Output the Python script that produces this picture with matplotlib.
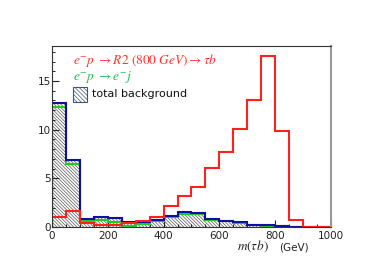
import numpy as np
import matplotlib
matplotlib.use("Agg")
import matplotlib.pyplot as plt
from matplotlib.patches import Rectangle

plt.rcParams['mathtext.fontset'] = 'stix'
plt.rcParams['hatch.linewidth'] = 0.5

# 50 GeV bins from 0 to 1000
bin_edges = np.arange(0, 1001, 50)

signal_r2 = [1.06, 1.64, 0.45, 0.22, 0.22, 0.45, 0.65, 1.06, 2.2, 3.2,
             4.1, 6.1, 7.7, 10.1, 13.0, 17.6, 9.9, 0.72, 0.05, 0.05]
bkg_ej = [12.3, 6.5, 0.6, 0.7, 0.55, 0.12, 0.35, 0.6, 1.0, 1.35,
          1.3, 0.75, 0.6, 0.45, 0.18, 0.15, 0.08, 0.03, 0.0, 0.0]
bkg_total = [12.75, 6.9, 0.8, 1.06, 0.9, 0.48, 0.55, 0.7, 1.1, 1.5,
             1.47, 0.8, 0.65, 0.5, 0.2, 0.18, 0.1, 0.05, 0.0, 0.0]

fig = plt.figure(figsize=(3.74, 2.8), dpi=100)
ax = fig.add_axes([0.139, 0.189, 0.746, 0.647])

hatch = '\\' * 10
centers = bin_edges[:-1] + 25
ax.hist(centers, bins=bin_edges, weights=bkg_total, histtype='stepfilled',
        facecolor='white', edgecolor='#555555', hatch=hatch, linewidth=0)
ax.hist(centers, bins=bin_edges, weights=bkg_ej, histtype='step',
        color='#22cc22', linewidth=1.5)
ax.hist(centers, bins=bin_edges, weights=bkg_total, histtype='step',
        color='#1010a0', linewidth=1.5)
ax.hist(centers, bins=bin_edges, weights=signal_r2, histtype='step',
        color='#ff2020', linewidth=1.5)

ax.set_xlim(0, 1000)
ax.set_ylim(0, 18.6)
ax.set_xticks([0, 200, 400, 600, 800, 1000])
ax.set_xticks(np.arange(0, 1001, 50), minor=True)
ax.set_yticks([0, 5, 10, 15])
ax.set_yticks(np.arange(0, 18.6, 1), minor=True)
ax.tick_params(direction='in', length=5, width=0.8, labelsize=7.5, pad=1,
               colors='#222222')
ax.tick_params(axis='x', pad=2.5)
ax.tick_params(which='minor', direction='in', length=2.5, width=0.6)
for s in ax.spines.values():
    s.set_linewidth(0.8)
    s.set_color('#333333')
ax.spines['right'].set_color('#999999')
ax.spines['right'].set_linewidth(1.5)

ax.text(0.075, 0.92, r'$e^{-}p\ \rightarrow R2\ (800\ GeV) \rightarrow \tau b$',
        transform=ax.transAxes, color='#ff3333', fontsize=9.6, va='center')
ax.text(0.075, 0.83, r'$e^{-}p\ \rightarrow e^{-}j$',
        transform=ax.transAxes, color='#22bb55', fontsize=9.6, va='center')
ax.add_patch(Rectangle((0.075, 0.69), 0.05, 0.085, transform=ax.transAxes,
                       facecolor='white', edgecolor='#445577', hatch='\\' * 8,
                       linewidth=0.8))
ax.text(0.145, 0.735, 'total background', transform=ax.transAxes,
        fontsize=8, va='center', color='#111111')

fig.text(0.635, 0.107, r'$m(\tau b)$', fontsize=9.5, color='#222222')
fig.text(0.745, 0.107, '(GeV)', fontsize=7.5, color='#222222')

fig.savefig('out.png', dpi=100)
